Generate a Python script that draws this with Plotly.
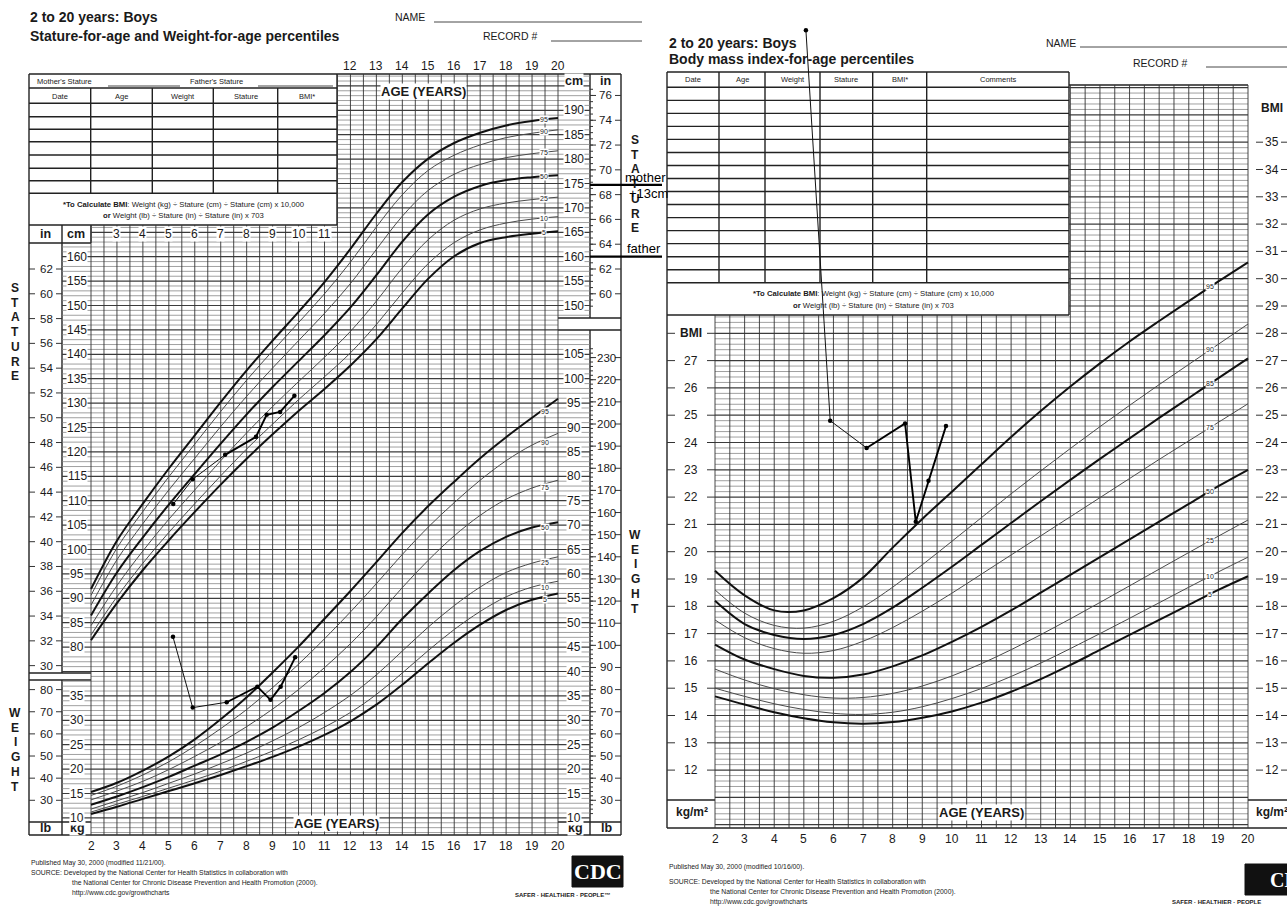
import math
import numpy as np
import plotly.graph_objects as go

W, H = 1287, 911

# ====================== DATA ======================
AGES = [2, 3, 4, 5, 6, 7, 8, 9, 10, 11, 12, 13, 14, 15, 16, 17, 18, 19, 20]

# Stature-for-age percentiles (cm)
STATURE_P5 = [81.4, 89.0, 95.8, 101.9, 107.7, 113.3, 118.6, 123.6, 128.4, 132.9, 137.7, 143.1, 149.4, 155.5, 160.1, 162.8, 164.0, 164.7, 165.2]
STATURE_P10 = [82.5, 90.3, 97.2, 103.5, 109.4, 115.1, 120.6, 125.7, 130.7, 135.4, 140.3, 146.1, 152.6, 158.6, 162.9, 165.5, 166.9, 167.7, 168.2]
STATURE_P25 = [84.4, 92.6, 99.7, 106.2, 112.2, 118.2, 123.9, 129.3, 134.4, 139.4, 144.7, 150.9, 157.7, 163.5, 167.5, 169.8, 171.0, 171.7, 172.2]
STATURE_P50 = [86.5, 95.3, 102.5, 109.2, 115.5, 121.7, 127.7, 133.3, 138.6, 143.9, 149.6, 156.2, 163.1, 168.7, 172.3, 174.5, 175.7, 176.3, 176.7]
STATURE_P75 = [88.6, 97.9, 105.3, 112.2, 118.7, 125.2, 131.4, 137.2, 142.8, 148.4, 154.5, 161.5, 168.3, 173.6, 176.9, 178.9, 180.3, 181.1, 181.7]
STATURE_P90 = [90.6, 100.3, 107.8, 114.9, 121.6, 128.3, 134.7, 140.7, 146.5, 152.4, 158.9, 166.1, 172.7, 177.7, 180.8, 182.9, 184.4, 185.3, 186.0]
STATURE_P95 = [91.9, 101.8, 109.4, 116.6, 123.4, 130.2, 136.7, 142.8, 148.7, 154.8, 161.6, 168.8, 175.3, 180.1, 183.3, 185.4, 186.9, 187.8, 188.4]

# Weight-for-age percentiles (kg)
WEIGHT_P5 = [10.8, 12.3, 13.9, 15.5, 17.1, 18.8, 20.6, 22.5, 24.6, 27.0, 29.8, 33.2, 37.3, 41.7, 45.9, 49.6, 52.6, 54.7, 56.0]
WEIGHT_P10 = [11.2, 12.8, 14.4, 16.1, 17.8, 19.6, 21.6, 23.7, 26.0, 28.6, 31.6, 35.3, 39.7, 44.3, 48.6, 52.3, 55.3, 57.3, 58.5]
WEIGHT_P25 = [11.8, 13.5, 15.2, 17.1, 19.0, 21.1, 23.3, 25.8, 28.5, 31.6, 35.1, 39.3, 44.2, 49.1, 53.5, 57.3, 60.3, 62.2, 63.5]
WEIGHT_P50 = [12.7, 14.4, 16.3, 18.4, 20.7, 23.0, 25.6, 28.5, 31.9, 35.6, 39.9, 45.0, 50.8, 56.0, 60.8, 64.7, 67.6, 69.5, 70.6]
WEIGHT_P75 = [13.7, 15.5, 17.5, 19.9, 22.6, 25.5, 28.7, 32.3, 36.3, 40.8, 45.7, 51.2, 57.2, 62.8, 67.8, 72.0, 75.3, 77.6, 79.2]
WEIGHT_P90 = [14.6, 16.5, 18.8, 21.5, 24.7, 28.3, 32.2, 36.7, 41.5, 46.7, 52.2, 58.0, 64.0, 69.6, 74.6, 79.2, 83.2, 86.4, 88.8]
WEIGHT_P95 = [15.3, 17.2, 19.7, 22.6, 26.1, 30.2, 34.7, 39.8, 45.1, 50.8, 56.5, 62.4, 68.4, 73.9, 78.9, 83.7, 88.0, 92.0, 95.9]

# BMI-for-age percentiles (kg/m2)
BMI_P5 = [14.7, 14.4, 14.12, 13.9, 13.75, 13.7, 13.76, 13.92, 14.15, 14.47, 14.87, 15.33, 15.85, 16.4, 16.95, 17.5, 18.05, 18.6, 19.1]
BMI_P10 = [15.0, 14.7, 14.43, 14.22, 14.08, 14.04, 14.12, 14.32, 14.62, 14.99, 15.43, 15.92, 16.45, 17.0, 17.56, 18.13, 18.7, 19.26, 19.8]
BMI_P25 = [15.7, 15.3, 14.98, 14.76, 14.64, 14.66, 14.81, 15.08, 15.45, 15.9, 16.41, 16.96, 17.54, 18.14, 18.75, 19.36, 19.97, 20.57, 21.16]
BMI_P50 = [16.6, 16.05, 15.7, 15.45, 15.38, 15.5, 15.8, 16.2, 16.7, 17.25, 17.85, 18.5, 19.15, 19.8, 20.45, 21.1, 21.75, 22.4, 23.0]
BMI_P75 = [17.5, 16.85, 16.45, 16.28, 16.38, 16.72, 17.22, 17.82, 18.48, 19.18, 19.88, 20.58, 21.28, 21.98, 22.68, 23.38, 24.06, 24.74, 25.42]
BMI_P85 = [18.2, 17.35, 16.95, 16.8, 16.95, 17.35, 17.95, 18.68, 19.45, 20.25, 21.05, 21.85, 22.63, 23.4, 24.15, 24.9, 25.63, 26.36, 27.08]
BMI_P90 = [18.6, 17.75, 17.3, 17.2, 17.45, 17.98, 18.7, 19.52, 20.38, 21.25, 22.12, 22.96, 23.78, 24.58, 25.36, 26.12, 26.86, 27.6, 28.34]
BMI_P95 = [19.3, 18.4, 17.85, 17.85, 18.3, 19.05, 20.15, 21.2, 22.2, 23.2, 24.2, 25.15, 26.05, 26.9, 27.7, 28.45, 29.18, 29.9, 30.6]

# Plotted patient measurements
PATIENT_STATURE_AGE = [5.17, 5.92, 7.17, 8.36, 8.77, 9.29, 9.84]
PATIENT_STATURE_CM = [109.3, 114.4, 119.4, 123.1, 127.6, 128.2, 131.5]
PATIENT_WEIGHT_AGE = [5.16, 5.92, 7.23, 8.41, 8.92, 9.31, 9.87]
PATIENT_WEIGHT_KG = [47.1, 32.6, 33.7, 36.9, 34.2, 36.9, 42.9]
PATIENT_BMI_AGE = [5.07, 5.89, 7.12, 8.42, 8.78, 9.21, 9.80]
PATIENT_BMI = [39.1, 24.8, 23.8, 24.7, 21.1, 22.6, 24.6]

# Hand-drawn target stature lines (cm)
TARGET_CM = [174.7, 160.0]

# Tick labels
STATURE_CM_LEFT = list(range(80, 161, 5))
STATURE_IN_LEFT = list(range(30, 63, 2))
STATURE_CM_RIGHT = list(range(150, 191, 5))
STATURE_IN_RIGHT = list(range(60, 77, 2))
WEIGHT_KG_LEFT = list(range(10, 36, 5))
WEIGHT_LB_LEFT = list(range(30, 81, 10))
WEIGHT_KG_RIGHT = list(range(10, 106, 5))
WEIGHT_LB_RIGHT = list(range(30, 231, 10))
BMI_TICKS_LEFT = list(range(12, 28))
BMI_TICKS_RIGHT = list(range(12, 36))
AGE_TOP = list(range(12, 21))
AGE_STRIP = list(range(3, 12))
AGE_BOTTOM = list(range(2, 21))

# ====================== layout geometry (pixels) ======================
L_AGE_PX = (91.0, 558.0)
L_CM160_PY = 256.7
L_PX_PER_CM = 4.88
KG_OFFSET = 35.0
R_AGE_PX = (715.0, 1248.0)
R_BMI20_PY = 551.7
R_PX_PER_BMI = 27.3


def lx(px):
    return 2 + (px - L_AGE_PX[0]) * 18.0 / (L_AGE_PX[1] - L_AGE_PX[0])


def lpx(age):
    return L_AGE_PX[0] + (age - 2) * (L_AGE_PX[1] - L_AGE_PX[0]) / 18.0


def lcm(py):
    return 160 + (L_CM160_PY - py) / L_PX_PER_CM


def lpy(cm):
    return L_CM160_PY - (cm - 160) * L_PX_PER_CM


def rx(px):
    return 2 + (px - R_AGE_PX[0]) * 18.0 / (R_AGE_PX[1] - R_AGE_PX[0])


def rpx(age):
    return R_AGE_PX[0] + (age - 2) * (R_AGE_PX[1] - R_AGE_PX[0]) / 18.0


def rbmi(py):
    return 20 + (R_BMI20_PY - py) / R_PX_PER_BMI


def rpy(v):
    return R_BMI20_PY - (v - 20) * R_PX_PER_BMI


L_DOM = (0, 700)
R_DOM = (643, W)

FONT = "Liberation Sans, Arial, Helvetica, sans-serif"
NARROW = "Liberation Sans Narrow, Arial Narrow, Liberation Sans, Arial, sans-serif"
INK = "#1a1a1a"

fig = go.Figure()
annotations = []


def T(text, x, y, size=11, bold=False, xref="x", yref="y", anchor="center",
      bg=None, color=INK, family=FONT, yanchor="middle"):
    d = dict(text=("<b>%s</b>" % text) if bold else text, x=x, y=y, xref=xref, yref=yref,
             showarrow=False, xanchor=anchor, yanchor=yanchor,
             font=dict(size=size, color=color, family=family))
    if bg:
        d.update(bgcolor=bg, borderpad=0)
    annotations.append(d)


def add_segs(segs, xa, ya, color, width):
    xs, ys = [], []
    for (x0, y0, x1, y1) in segs:
        xs += [x0, x1, None]
        ys += [y0, y1, None]
    fig.add_trace(go.Scatter(x=xs, y=ys, mode="lines", xaxis=xa, yaxis=ya,
                             line=dict(color=color, width=width),
                             hoverinfo="skip", showlegend=False))


# ====================== canvas (pixel) decorations ======================
cv = []
cv_thin = []
# ---- left panel frame
cv += [(29, 74, 621, 74), (29, 835, 621, 835), (29, 74, 29, 835), (621, 74, 621, 835)]
cv += [(29, 225, 337, 225), (337, 74, 337, 225)]
for y in [88, 103.3, 116.7, 129.3, 141.7, 155, 168.3, 180.7, 193.3]:
    cv.append((29, y, 337, y))
for x in [90.7, 152.3, 213.3, 277.7]:
    cv.append((x, 88, x, 193.3))
cv_thin += [(108, 86, 180, 86), (258, 86, 333, 86)]
cv += [(62, 225, 62, 673), (62, 680, 62, 835), (29, 243, 91, 243), (29, 673, 91, 673),
       (29, 680, 91, 680), (29, 822, 91, 822), (91, 225, 91, 243)]
cv += [(590, 74, 590, 318), (590, 330, 590, 835), (558, 318, 621, 318), (558, 330, 621, 330),
       (558, 822, 621, 822)]
cv_thin += [(434, 22, 642, 22), (551, 41, 642, 41)]
# ---- right panel frame
cv += [(667, 72, 667, 828), (667, 828, 1287, 828), (667, 72, 1069, 72), (1069, 85, 1248, 85)]
cv += [(667, 315, 1069, 315), (1069, 72, 1069, 315), (667, 87.3, 1069, 87.3)]
for k in range(1, 16):
    y = 87.3 + 13.03 * k
    cv.append((667, y, 1069, y))
for x in [719, 765, 820, 872.7, 926.7]:
    cv.append((x, 72, x, 282.75))
cv += [(667, 800, 715, 800), (1248, 800, 1287, 800)]
cv_thin += [(1080, 47, 1287, 47), (1206, 67, 1287, 67)]
add_segs(cv, "x", "y", "#222", 1.4)
add_segs(cv_thin, "x", "y", "#333", 0.9)

# CDC logos (decorative boxes)
for (x0, y0, x1, y1) in [(572, 856, 623, 887), (1245, 864, 1290, 895)]:
    fig.add_trace(go.Scatter(x=[x0, x1, x1, x0, x0], y=[y0, y0, y1, y1, y0], mode="lines",
                             fill="toself", fillcolor="#111", line=dict(color="#111", width=1),
                             xaxis="x", yaxis="y", hoverinfo="skip", showlegend=False))

# ====================== LEFT: grid ======================
vgrid, hmin, hmaj = [], [], []
for k in range(37):
    a = 2 + 0.5 * k
    top = 74 if lpx(a) > 337 else 225
    vgrid.append((a, lcm(top), a, lcm(835)))
for cm in range(math.ceil(lcm(835)), math.floor(lcm(74)) + 1):
    py = lpy(cm)
    if py < 225:
        xl = 337
    elif (243 <= py <= 673) or (680 <= py <= 822):
        xl = 62
    else:
        xl = 91
    xr = 590 if (py <= 318 or 330 <= py <= 822) else 558
    s = (lx(xl), cm, lx(xr), cm)
    (hmaj if cm % 5 == 0 else hmin).append(s)
add_segs(hmin, "x2", "y2", "#808080", 0.75)
add_segs(hmaj, "x2", "y2", "#3c3c3c", 1.2)
add_segs(vgrid, "x2", "y2", "#333333", 0.9)

dash_s, dash_w = [], []
for v in STATURE_IN_LEFT:
    c = v * 2.54
    dash_s += [(lx(29), c, lx(35), c), (lx(56), c, lx(62), c)]
for v in STATURE_IN_RIGHT:
    c = v * 2.54
    dash_s += [(lx(590), c, lx(596), c), (lx(615), c, lx(621), c)]
for v in np.arange(59, 78, 0.5):
    c = v * 2.54
    if 88 < lpy(c) < 316:
        dash_s.append((lx(590), c, lx(593), c))
for v in WEIGHT_LB_LEFT:
    k = v * 0.45359
    dash_w += [(lx(29), k, lx(35), k), (lx(56), k, lx(62), k)]
for v in WEIGHT_LB_RIGHT:
    k = v * 0.45359
    dash_w += [(lx(590), k, lx(596), k), (lx(615), k, lx(621), k)]
for v in range(24, 236, 2):
    k = v * 0.45359
    dash_w.append((lx(590), k, lx(593), k))
add_segs(dash_s, "x2", "y2", "#333", 1.0)
add_segs(dash_w, "x2", "y3", "#333", 1.0)

# ====================== LEFT: percentile curves ======================
stat_sets = [(5, STATURE_P5), (10, STATURE_P10), (25, STATURE_P25), (50, STATURE_P50),
             (75, STATURE_P75), (90, STATURE_P90), (95, STATURE_P95)]
wt_sets = [(5, WEIGHT_P5), (10, WEIGHT_P10), (25, WEIGHT_P25), (50, WEIGHT_P50),
           (75, WEIGHT_P75), (90, WEIGHT_P90), (95, WEIGHT_P95)]
THICK = {5, 50, 95}
for p, vals in stat_sets:
    thick = p in THICK
    fig.add_trace(go.Scatter(x=AGES, y=vals, mode="lines", xaxis="x2", yaxis="y2",
                             line=dict(color="#111" if thick else "#4a4a4a", width=2.0 if thick else 1.0,
                                       shape="spline", smoothing=1.0),
                             hoverinfo="skip", showlegend=False))
    T(str(p), 19.45, float(np.interp(19.45, AGES, vals)), size=7, xref="x2", yref="y2", bg="white")
for p, vals in wt_sets:
    thick = p in THICK
    fig.add_trace(go.Scatter(x=AGES, y=vals, mode="lines", xaxis="x2", yaxis="y3",
                             line=dict(color="#111" if thick else "#4a4a4a", width=2.0 if thick else 1.0,
                                       shape="spline", smoothing=1.0),
                             hoverinfo="skip", showlegend=False))
    T(str(p), 19.5, float(np.interp(19.5, AGES, vals)) - 0.6, size=7, xref="x2", yref="y3", bg="white")

for c in TARGET_CM:
    fig.add_trace(go.Scatter(x=[lx(590), lx(662)], y=[c, c], mode="lines", xaxis="x2", yaxis="y2",
                             line=dict(color="#000", width=2.2), hoverinfo="skip", showlegend=False))


def patient(xs, ys, xa, ya):
    fig.add_trace(go.Scatter(x=xs[:3], y=ys[:3], mode="lines", xaxis=xa, yaxis=ya,
                             line=dict(color="#111", width=1.0), hoverinfo="skip", showlegend=False))
    fig.add_trace(go.Scatter(x=xs[2:], y=ys[2:], mode="lines", xaxis=xa, yaxis=ya,
                             line=dict(color="#000", width=1.9), hoverinfo="skip", showlegend=False))
    fig.add_trace(go.Scatter(x=xs, y=ys, mode="markers", xaxis=xa, yaxis=ya,
                             marker=dict(color="#000", size=4.5), hoverinfo="skip", showlegend=False))


patient(PATIENT_STATURE_AGE, PATIENT_STATURE_CM, "x2", "y2")
patient(PATIENT_WEIGHT_AGE, PATIENT_WEIGHT_KG, "x2", "y3")

# ====================== RIGHT: BMI grid ======================
rv, rmin, rmaj = [], [], []
for k in range(37):
    a = 2 + 0.5 * k
    top = 85 if rpx(a) > 1069 else 315
    rv.append((a, rbmi(top), a, rbmi(828)))
for i in range(50, 186):
    v = i / 5.0
    py = rpy(v)
    if py < 86 or py > 827:
        continue
    xl = 1069 if py < 315 else 715
    s = (rx(xl), v, rx(1248), v)
    (rmaj if i % 5 == 0 else rmin).append(s)
add_segs(rmin, "x3", "y4", "#808080", 0.75)
add_segs(rmaj, "x3", "y4", "#3c3c3c", 1.2)
add_segs(rv, "x3", "y4", "#333333", 0.9)
bd = []
for v in BMI_TICKS_LEFT + [28]:
    bd += [(rx(667), v, rx(675), v), (rx(707), v, rx(715), v)]
for v in BMI_TICKS_RIGHT:
    bd += [(rx(1256), v, rx(1263), v), (rx(1281), v, rx(1287), v)]
add_segs(bd, "x3", "y4", "#333", 1.0)

bmi_sets = [(5, BMI_P5), (10, BMI_P10), (25, BMI_P25), (50, BMI_P50), (75, BMI_P75),
            (85, BMI_P85), (90, BMI_P90), (95, BMI_P95)]
BMI_THICK = {5, 50, 85, 95}
for p, vals in bmi_sets:
    thick = p in BMI_THICK
    fig.add_trace(go.Scatter(x=AGES, y=vals, mode="lines", xaxis="x3", yaxis="y4",
                             line=dict(color="#111" if thick else "#4a4a4a", width=2.0 if thick else 1.0,
                                       shape="spline", smoothing=1.0),
                             hoverinfo="skip", showlegend=False))
    T(str(p), 18.72, float(np.interp(18.72, AGES, vals)), size=7, xref="x3", yref="y4", bg="white")

patient(PATIENT_BMI_AGE, PATIENT_BMI, "x3", "y4")

# ====================== TEXT ======================
T("2 to 20 years: Boys", 28, 17, size=14, bold=True, anchor="left")
T("Stature-for-age and Weight-for-age percentiles", 28, 36, size=14, bold=True, anchor="left")
T("NAME", 393, 17, size=10.5, anchor="left", family=NARROW)
T("RECORD #", 481, 36, size=10.5, anchor="left", family=NARROW)
T("Mother's Stature", 35, 81.5, size=7.5, anchor="left")
T("Father's Stature", 188, 81.5, size=7.5, anchor="left")
for txt, x in [("Date", 60), ("Age", 121.5), ("Weight", 183), ("Stature", 245.5), ("BMI*", 307)]:
    T(txt, x, 96, size=7.5)
T("<b>*To Calculate BMI</b>: Weight (kg) ÷ Stature (cm) ÷ Stature (cm) x 10,000", 183, 204, size=7.7)
T("<b>or</b> Weight (lb) ÷ Stature (in) ÷ Stature (in) x 703", 183, 215.5, size=7.7)
T("in", 45, 234, size=12.5, bold=True)
T("cm", 76, 234, size=12.5, bold=True)
for a in AGE_STRIP:
    T(str(a), a, 234, size=12, xref="x2", bg="white")
for a in AGE_TOP:
    T(str(a), a, 66, size=12, xref="x2")
for a in AGE_BOTTOM:
    T(str(a), a, 846, size=12, xref="x2")
T("AGE (YEARS)", 423, 91, size=13, bold=True, bg="white")
T("AGE (YEARS)", 336, 823, size=13, bold=True, bg="white")
T("cm", 574, 81, size=12.5, bold=True, bg="white")
T("in", 605, 81, size=12.5, bold=True)
T("lb", 45, 828, size=12.5, bold=True)
T("kg", 77, 828, size=12.5, bold=True, bg="white")
T("kg", 575, 828, size=12.5, bold=True, bg="white")
T("lb", 606, 828, size=12.5, bold=True)
for v in STATURE_CM_LEFT:
    T(str(v), 77, v, size=12, yref="y2", bg="white", family=NARROW)
for v in STATURE_IN_LEFT:
    T(str(v), 46, v * 2.54, size=11.5, yref="y2", family=NARROW)
for v in STATURE_CM_RIGHT:
    T(str(v), 574, v, size=12, yref="y2", bg="white", family=NARROW)
for v in STATURE_IN_RIGHT:
    T(str(v), 605, v * 2.54, size=11.5, yref="y2", family=NARROW)
for v in WEIGHT_KG_LEFT:
    T(str(v), 77, v, size=12, yref="y3", bg="white", family=NARROW)
for v in WEIGHT_LB_LEFT:
    T(str(v), 46, v * 0.45359, size=11.5, yref="y3", family=NARROW)
for v in WEIGHT_KG_RIGHT:
    T(str(v), 574, v, size=12, yref="y3", bg="white", family=NARROW)
for v in WEIGHT_LB_RIGHT:
    T(str(v), 606, v * 0.45359, size=11.5, yref="y3", family=NARROW)
for i, ch in enumerate("STATURE"):
    T(ch, 15, 288 + 14.7 * i, size=12, bold=True)
    T(ch, 635, 140 + 14.7 * i, size=12, bold=True)
for i, ch in enumerate("WEIGHT"):
    T(ch, 15, 713 + 14.7 * i, size=12, bold=True)
    T(ch, 635, 535 + 14.7 * i, size=12, bold=True)
T("mother", 645, 177, size=13, color="#000")
T("+13cm", 648, 193, size=13, color="#000")
T("father", 644, 248, size=13, color="#000")
T("Published May 30, 2000 (modified 11/21/00).", 29, 862.5, size=6.8, anchor="left")
T("SOURCE: Developed by the National Center for Health Statistics in collaboration with", 29, 872.5, size=6.8, anchor="left")
T("the National Center for Chronic Disease Prevention and Health Promotion (2000).", 70, 883, size=6.8, anchor="left")
T("http://www.cdc.gov/growthcharts", 70, 892.5, size=6.8, anchor="left")
T("<b>CDC</b>", 597.5, 871.5, size=22, color="white", family="Liberation Serif, Times New Roman, serif")
T("SAFER · HEALTHIER · PEOPLE™", 562, 894.5, size=6, bold=True)

T("2 to 20 years: Boys", 667, 43, size=14, bold=True, anchor="left")
T("Body mass index-for-age percentiles", 667, 59, size=14, bold=True, anchor="left")
T("NAME", 1044, 43, size=10.5, anchor="left", family=NARROW)
T("RECORD #", 1131, 63, size=10.5, anchor="left", family=NARROW)
for txt, x in [("Date", 693), ("Age", 742), ("Weight", 792.5), ("Stature", 846.3), ("BMI*", 899.7), ("Comments", 998)]:
    T(txt, x, 79.5, size=7.5)
T("<b>*To Calculate BMI</b>: Weight (kg) ÷ Stature (cm) ÷ Stature (cm) x 10,000", 873, 293.3, size=7.7)
T("<b>or</b> Weight (lb) ÷ Stature (in) ÷ Stature (in) x 703", 873, 305, size=7.7)
T("BMI", 691, 28, size=12, bold=True, yref="y4")
for v in BMI_TICKS_LEFT:
    T(str(v), 691, v, size=12, yref="y4")
T("BMI", 1272, 108, size=12, bold=True)
for v in BMI_TICKS_RIGHT:
    T(str(v), 1272, v, size=12, yref="y4")
T("kg/m²", 692, 812, size=12, bold=True)
T("kg/m²", 1254, 812, size=12, bold=True, anchor="left")
T("AGE (YEARS)", 981, 812, size=13, bold=True, bg="white")
for a in AGE_BOTTOM:
    T(str(a), a, 838.5, size=12, xref="x3")
T("Published May 30, 2000 (modified 10/16/00).", 667, 867, size=6.8, anchor="left")
T("SOURCE: Developed by the National Center for Health Statistics in collaboration with", 667, 881.5, size=6.8, anchor="left")
T("the National Center for Chronic Disease Prevention and Health Promotion (2000).", 708, 892, size=6.8, anchor="left")
T("http://www.cdc.gov/growthcharts", 708, 901.5, size=6.8, anchor="left")
T("<b>CDC</b>", 1268, 880, size=20, color="white", family="Liberation Serif, Times New Roman, serif", anchor="left")
T("SAFER · HEALTHIER · PEOPLE", 1170, 902, size=6, bold=True, anchor="left")

# ====================== AXES ======================
def hidden(**kw):
    d = dict(visible=False, showgrid=False, zeroline=False, fixedrange=True)
    d.update(kw)
    return d


fig.update_layout(
    width=W, height=H, margin=dict(l=0, r=0, t=0, b=0),
    paper_bgcolor="white", plot_bgcolor="rgba(0,0,0,0)", showlegend=False,
    xaxis=hidden(domain=[0, 1], range=[0, W], anchor="y"),
    yaxis=hidden(domain=[0, 1], range=[H, 0], anchor="x"),
    xaxis2=hidden(domain=[L_DOM[0] / W, L_DOM[1] / W], range=[lx(L_DOM[0]), lx(L_DOM[1])], anchor="y2"),
    yaxis2=hidden(domain=[0, 1], range=[lcm(H), lcm(0)], anchor="x2"),
    yaxis3=hidden(domain=[0, 1], range=[lcm(H) - KG_OFFSET, lcm(0) - KG_OFFSET], anchor="x2", overlaying="y2"),
    xaxis3=hidden(domain=[R_DOM[0] / W, R_DOM[1] / W], range=[rx(R_DOM[0]), rx(R_DOM[1])], anchor="y4"),
    yaxis4=hidden(domain=[0, 1], range=[rbmi(H), rbmi(0)], anchor="x3"),
    annotations=annotations,
)

fig.write_html("out.html", config={"displayModeBar": False},
               post_script="document.body.style.margin='0';document.body.style.overflow='hidden';")
